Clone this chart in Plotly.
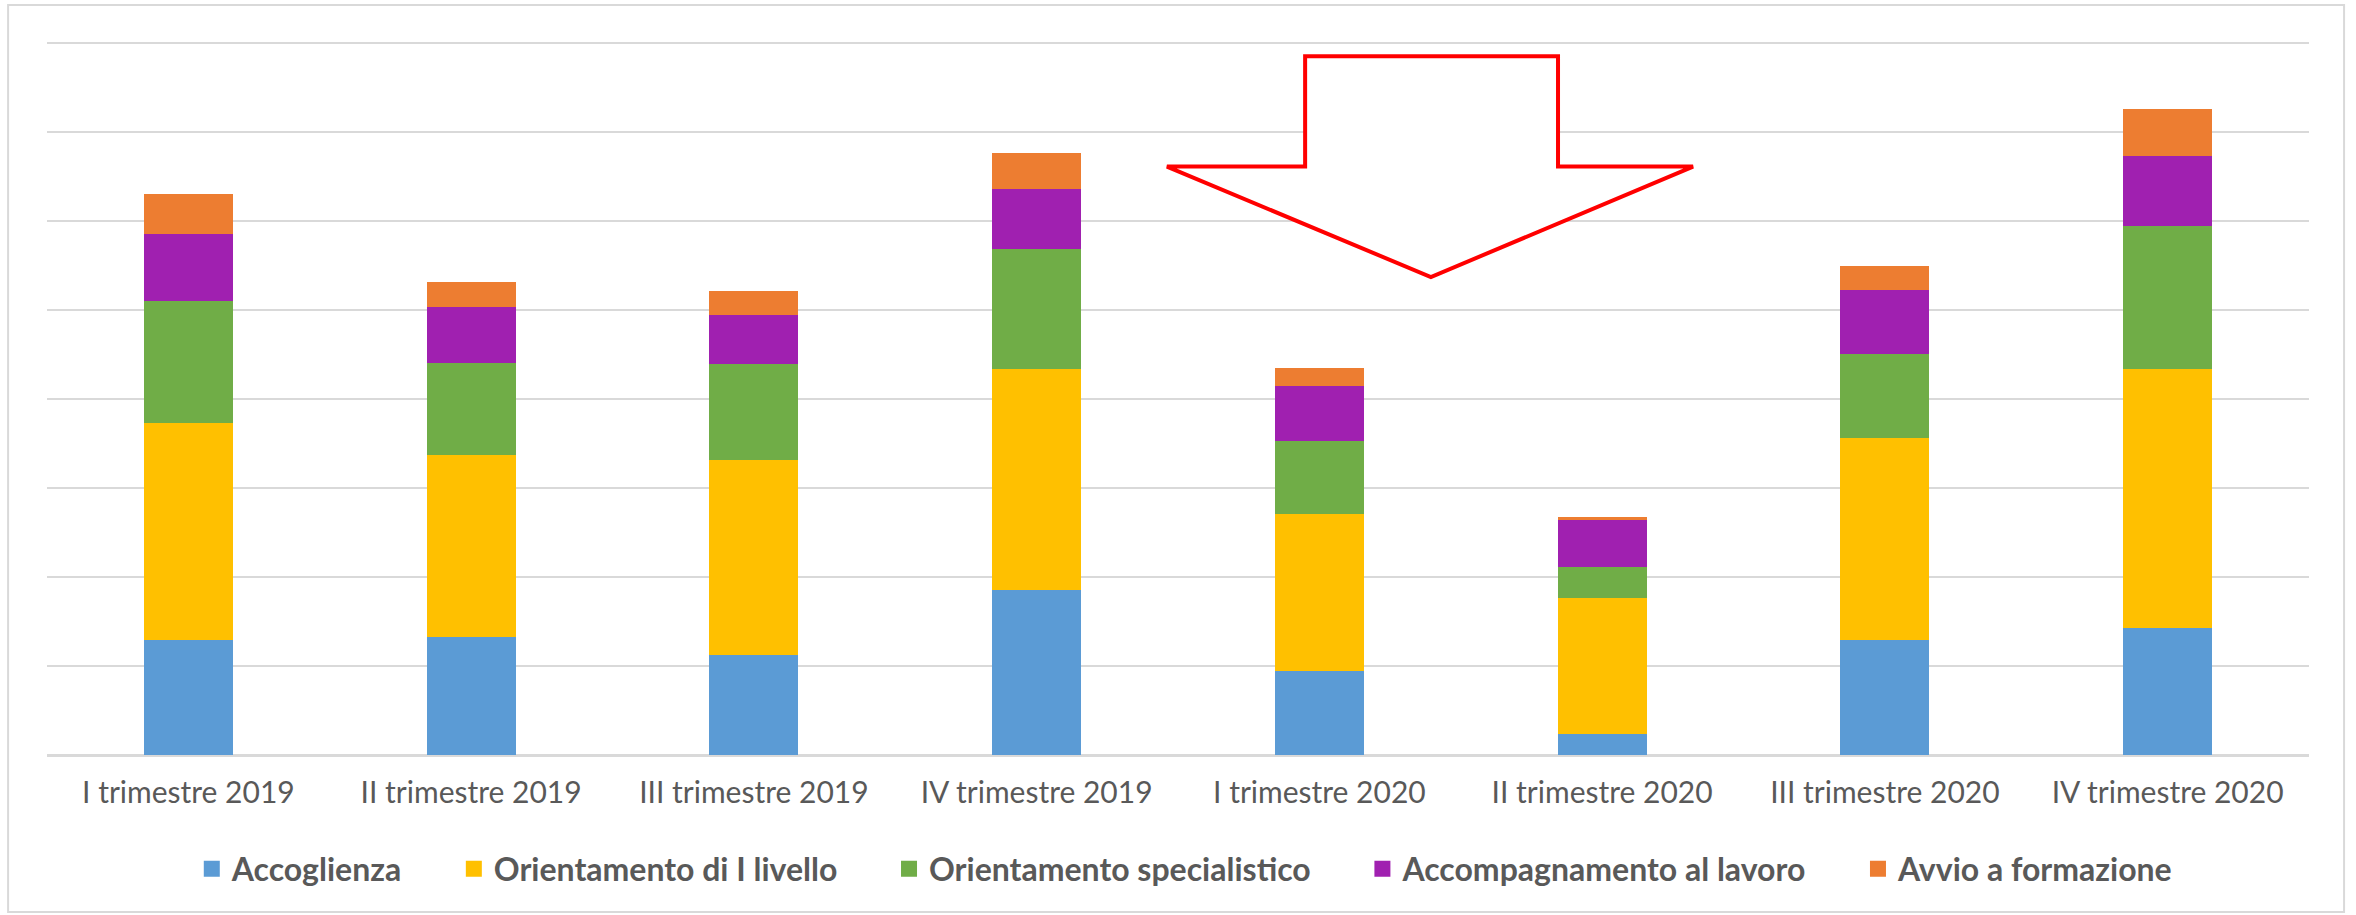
import plotly.graph_objects as go

categories = ["I trimestre 2019", "II trimestre 2019", "III trimestre 2019", "IV trimestre 2019",
              "I trimestre 2020", "II trimestre 2020", "III trimestre 2020", "IV trimestre 2020"]

accoglienza = [1290, 1330, 1120, 1850, 940, 235, 1290, 1430]
orientamento_I = [2440, 2040, 2190, 2490, 1770, 1525, 2270, 2910]
orientamento_spec = [1370, 1040, 1080, 1350, 820, 350, 950, 1600]
accompagnamento = [750, 630, 560, 670, 620, 540, 720, 790]
avvio_formazione = [460, 280, 260, 410, 200, 20, 260, 530]

series_names = ["Accoglienza", "Orientamento di I livello", "Orientamento specialistico",
                "Accompagnamento al lavoro", "Avvio a formazione"]
series_values = [accoglienza, orientamento_I, orientamento_spec, accompagnamento, avvio_formazione]
series_colors = ["#5B9BD5", "#FFC000", "#70AD47", "#A020B0", "#ED7D31"]

fig = go.Figure()
for name, vals, col in zip(series_names, series_values, series_colors):
    fig.add_trace(go.Bar(x=categories, y=vals, name=name, showlegend=False,
                         marker=dict(color=col, line=dict(width=0))))

# legend entries (square swatches)
pad = "\u00a0" * 6
for i, (name, col) in enumerate(zip(series_names, series_colors)):
    label = name + (pad if i < len(series_names) - 1 else "")
    fig.add_trace(go.Scatter(x=[None], y=[None], mode="markers", name=label,
                             marker=dict(symbol="square", size=18, color=col)))

W, H = 2356, 915
ml, mr, mt, mb = 47, 47, 36, 160

fig.update_layout(
    barmode="stack",
    bargap=0.686,
    width=W, height=H,
    margin=dict(l=ml, r=mr, t=mt, b=mb, pad=0),
    paper_bgcolor="white",
    plot_bgcolor="white",
    font=dict(family="Lato", color="#595959"),
    showlegend=True,
    legend=dict(orientation="h", x=0.503, xanchor="center", y=-0.1585, yanchor="middle",
                font=dict(family="Lato", size=32, color="#595959", weight="bold"),
                itemwidth=30, tracegroupgap=0, traceorder="normal"),
    xaxis=dict(showgrid=False, showline=False, zeroline=False,
               ticks="outside", ticklen=11, tickcolor="rgba(0,0,0,0)",
               tickfont=dict(family="Lato", size=30, color="#595959")),
    yaxis=dict(range=[0, 8080], dtick=1000, showticklabels=False, showgrid=True,
               gridcolor="#D9D9D9", gridwidth=2, zeroline=True, zerolinecolor="#D9D9D9",
               zerolinewidth=3, showline=False),
)

# outer chart border
fig.add_shape(type="rect", xref="paper", yref="paper",
              x0=-0.0172, x1=1.0155, y0=-0.2183, y1=1.0430,
              line=dict(color="#D9D9D9", width=2), fillcolor="rgba(0,0,0,0)", layer="below")

# red down arrow outline
ax = [0.4951, 0.5562, 0.6680, 0.7277, 0.6118]
ay = [0.9720, 0.8184, 0.6647]
path = (f"M {ax[1]} {ay[0]} L {ax[2]} {ay[0]} L {ax[2]} {ay[1]} L {ax[3]} {ay[1]} "
        f"L {ax[4]} {ay[2]} L {ax[0]} {ay[1]} L {ax[1]} {ay[1]} Z")
fig.add_shape(type="path", xref="paper", yref="paper", path=path,
              line=dict(color="#FF0000", width=4), fillcolor="white", layer="above")

fig.write_html("out.html", config={"displayModeBar": False},
               post_script="document.body.style.margin='0';")
